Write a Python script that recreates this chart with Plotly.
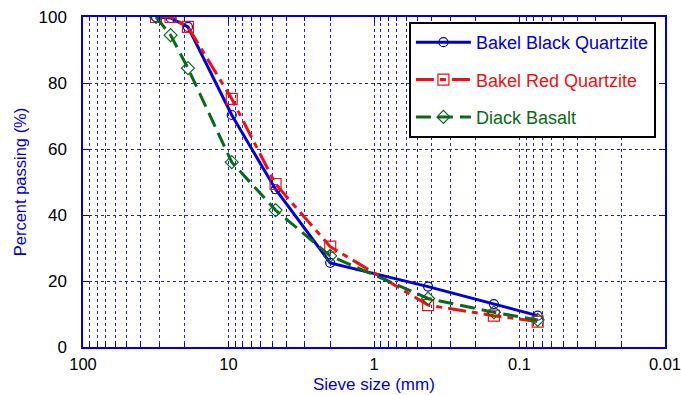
import plotly.graph_objects as go

sieve_mm = [31.5, 25, 19, 9.5, 4.75, 2, 0.425, 0.15, 0.075]
black_quartzite = [100, 99.7, 97, 70.3, 47.8, 25.5, 18.3, 13, 9.5]
red_quartzite = [100, 100, 97, 75.2, 49.4, 30.4, 12.7, 9.5, 7.7]
diack_basalt = [100, 94.5, 84.5, 56, 41.5, 27.6, 14.7, 10.5, 8.2]

x_tickvals = [100, 10, 1, 0.1, 0.01]
x_ticktext = ["100", "10", "1", "0.1", "0.01"]
y_tickvals = [0, 20, 40, 60, 80, 100]

BLUE = "#0000dd"
RED = "#ee1111"
GREEN = "#0a6a1a"
FONT = "Liberation Sans, Arial, sans-serif"


def colored(name, color):
    return f"<span style='color:{color}'>{name}</span>"


fig = go.Figure()
fig.add_trace(go.Scatter(
    x=sieve_mm, y=black_quartzite, mode="lines+markers",
    name=colored("Bakel Black Quartzite", BLUE), legendgroup="a",
    line=dict(color=BLUE, width=3),
    marker=dict(symbol="circle-open", size=9, color=BLUE, line=dict(width=1.2, color=BLUE)),
))
fig.add_trace(go.Scatter(
    x=sieve_mm, y=red_quartzite, mode="lines+markers",
    name=colored("Bakel Red Quartzite", RED), legendgroup="b",
    line=dict(color=RED, width=3, dash="18px,6px,6px,6px"),
    marker=dict(symbol="square-open", size=11, color=RED, line=dict(width=1.2, color=RED)),
))
fig.add_trace(go.Scatter(
    x=sieve_mm, y=diack_basalt, mode="lines+markers",
    name=colored("Diack Basalt", GREEN), legendgroup="c",
    line=dict(color=GREEN, width=3, dash="15px,7px"),
    marker=dict(symbol="diamond-open", size=10, color=GREEN, line=dict(width=1.2, color=GREEN)),
))

grid = dict(showgrid=True, gridcolor="#2020ee", griddash="dot", gridwidth=1)

fig.update_layout(
    width=681, height=395,
    margin=dict(l=83, r=16, t=17, b=48, autoexpand=False),
    paper_bgcolor="white", plot_bgcolor="white",
    font=dict(family=FONT, size=17, color="black"),
    showlegend=True,
    legend=dict(
        x=0.56, y=0.985, xanchor="left", yanchor="top",
        bgcolor="white", bordercolor="black", borderwidth=2,
        font=dict(family=FONT, size=18),
        traceorder="grouped", tracegroupgap=11,
        itemwidth=55,
    ),
    xaxis=dict(
        type="log", range=[2.0001, -2.0001],
        tickvals=x_tickvals, ticktext=x_ticktext,
        ticks="inside", ticklen=6, tickcolor=BLUE,
        showline=True, linecolor=BLUE, linewidth=1.5, mirror="allticks",
        tickfont=dict(family=FONT, size=16.5, color="black"),
        ticklabelstandoff=1,
        ticklabeloverflow="allow",
        automargin=False,
        minor=dict(dtick="D1", ticks="inside", ticklen=4, tickcolor=BLUE,
                   showgrid=True, gridcolor="#2020ee", griddash="dot", gridwidth=1),
        zeroline=False,
        **grid,
    ),
    yaxis=dict(
        range=[0, 100], tickvals=y_tickvals,
        ticks="inside", ticklen=6, tickcolor=BLUE,
        showline=True, linecolor=BLUE, linewidth=1.5, mirror="allticks",
        title=dict(text="Percent passing (%)", font=dict(family=FONT, size=16.5, color=BLUE), standoff=8),
        tickfont=dict(family=FONT, size=17, color="black"),
        ticklabelstandoff=11,
        automargin=False,
        zeroline=False,
        **grid,
    ),
    annotations=[dict(
        text="Sieve size (mm)", xref="paper", yref="paper",
        x=0.5, y=-0.1445, xanchor="center", yanchor="bottom",
        borderpad=0,
        showarrow=False, font=dict(family=FONT, size=17, color=BLUE),
    )],
)

fig.write_html("out.html")
